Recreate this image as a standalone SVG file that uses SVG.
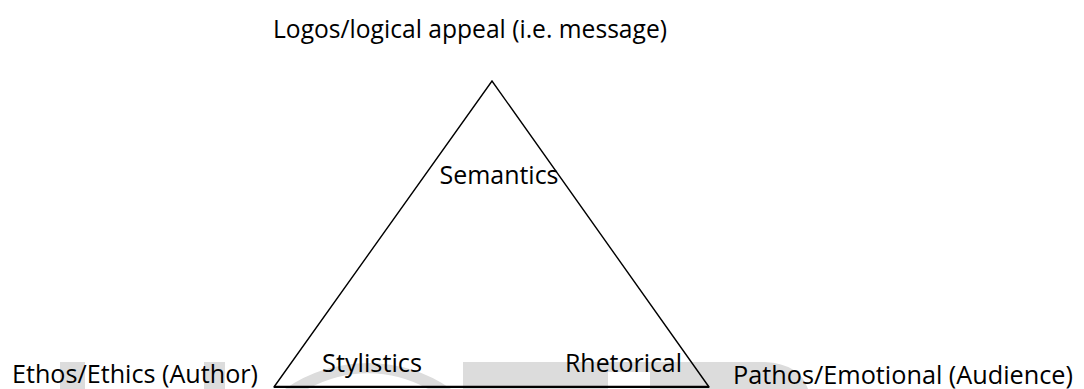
<svg xmlns="http://www.w3.org/2000/svg" width="1084" height="389" viewBox="0 0 1084 389">
<style>
text{font-family:"Open Sans","Liberation Sans",sans-serif;font-size:25px;fill:#000}
.wm{fill:#dcdcdc}
.edge{stroke:#000;stroke-width:1.4;fill:none;stroke-linecap:round}
.base{stroke:#000;stroke-width:2.2;fill:none}
</style>
<rect width="1084" height="389" fill="#fff"/>
<g id="watermark">
<rect class="wm" x="60" y="362" width="25" height="27"/>
<rect class="wm" x="204" y="362" width="21" height="27"/>
<path class="wm" d="M285,389 A145,145 0 0 1 451,389 L428,389 A123,123 0 0 0 308,389 Z"/>
<rect class="wm" x="463" y="362" width="145" height="27"/>
<rect class="wm" x="608" y="362" width="42" height="10"/>
<path class="wm" d="M650,362 H765 Q800,364 808,389 H650 Z"/>
</g>
<g id="connectors">
<polyline class="edge" points="274,387 492,81 709,387"/>
<line class="base" x1="274" y1="386.8" x2="709" y2="386.8"/>
</g>
<g id="node-logos"><text x="273" y="37.5" textLength="394" lengthAdjust="spacingAndGlyphs">Logos/logical appeal (i.e. message)</text></g>
<g id="node-semantics"><text x="439.5" y="183.5" textLength="119" lengthAdjust="spacingAndGlyphs">Semantics</text></g>
<g id="node-stylistics"><text x="322" y="371.5" textLength="100" lengthAdjust="spacingAndGlyphs">Stylistics</text></g>
<g id="node-rhetorical"><text x="565" y="371.5" textLength="117" lengthAdjust="spacingAndGlyphs">Rhetorical</text></g>
<g id="node-ethos"><text x="12" y="382.5" textLength="246" lengthAdjust="spacingAndGlyphs">Ethos/Ethics (Author)</text></g>
<g id="node-pathos"><text x="733" y="383.5" textLength="340" lengthAdjust="spacingAndGlyphs">Pathos/Emotional (Audience)</text></g>
</svg>
